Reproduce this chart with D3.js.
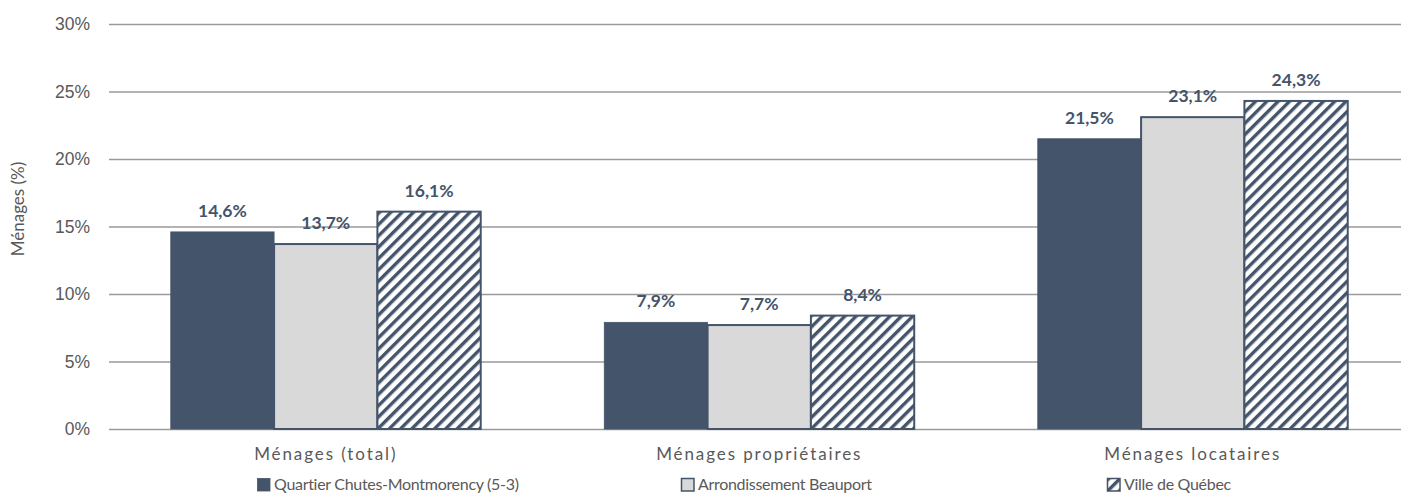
<!DOCTYPE html>
<html>
<head>
<meta charset="utf-8">
<script src="https://cdn.jsdelivr.net/npm/d3@7"></script>
<style>
  html, body { margin: 0; padding: 0; background: #fff; }
  svg { display: block; font-family: Lato, "Open Sans", sans-serif; }
</style>
</head>
<body>
<svg id="chart" width="1401" height="495"></svg>
<script>
// Categories, series and values
const categories = ["Ménages (total)", "Ménages propriétaires", "Ménages locataires"];
const seriesNames = ["Quartier Chutes-Montmorency (5-3)", "Arrondissement Beauport", "Ville de Québec"];
const quartier = [14.6, 7.9, 21.5];
const arrondissement = [13.7, 7.7, 23.1];
const ville = [16.1, 8.4, 24.3];
const yTicks = [0, 5, 10, 15, 20, 25, 30];
const yTitle = "Ménages (%)";

const seriesValues = [quartier, arrondissement, ville];
const dark = "#44546A";
const light = "#D9D9D9";

const svg = d3.select("#chart");
const W = 1401, H = 495;
const m = { left: 109, right: -8.5, top: 24, bottom: 66 };

// Hatched fill for the city series
const defs = svg.append("defs");
const pat = defs.append("pattern")
  .attr("id", "hatch")
  .attr("patternUnits", "userSpaceOnUse")
  .attr("width", 8).attr("height", 8)
  .attr("patternTransform", "rotate(45)");
pat.append("rect").attr("width", 8).attr("height", 8).attr("fill", "#fff");
pat.append("rect").attr("x", 0).attr("width", 3.4).attr("height", 8).attr("fill", dark);

const fills = [dark, light, "url(#hatch)"];

const x0 = d3.scaleBand().domain(categories)
  .range([m.left, W - m.right]).paddingInner(0.285).paddingOuter(0.1425);
const x1 = d3.scaleBand().domain(d3.range(seriesNames.length))
  .range([0, x0.bandwidth()]);
const y = d3.scaleLinear().domain([0, 30]).range([H - m.bottom, m.top]);

// Horizontal gridlines with tick labels
const yAxis = d3.axisLeft(y).tickValues(yTicks).tickFormat(d => d + "%")
  .tickSize(-(W - m.right - m.left)).tickPadding(19);
const gy = svg.append("g").attr("transform", `translate(${m.left},0)`).call(yAxis);
gy.select(".domain").remove();
gy.selectAll(".tick line").attr("stroke", "#9a9a9a").attr("stroke-width", 1.5);
gy.selectAll(".tick text").attr("fill", "#595959").style("font-size", "17.5px");

// Y axis title
svg.append("text")
  .attr("transform", `translate(24,209) rotate(-90)`)
  .attr("text-anchor", "middle")
  .attr("fill", "#595959").style("font-size", "17px")
  .text(yTitle);

// Bars
const groups = svg.append("g").selectAll("g")
  .data(categories)
  .join("g")
  .attr("transform", d => `translate(${x0(d)},0)`);

groups.selectAll("rect")
  .data((c, ci) => seriesValues.map((vals, si) => ({ si, v: vals[ci] })))
  .join("rect")
  .attr("x", d => x1(d.si))
  .attr("y", d => y(d.v))
  .attr("width", x1.bandwidth())
  .attr("height", d => y(0) - y(d.v))
  .attr("fill", d => fills[d.si])
  .attr("stroke", dark)
  .attr("stroke-width", d => d.si === 0 ? 0.8 : 2);

// Value labels
groups.selectAll("text.val")
  .data((c, ci) => seriesValues.map((vals, si) => ({ si, v: vals[ci] })))
  .join("text")
  .attr("class", "val")
  .attr("x", d => x1(d.si) + x1.bandwidth() / 2)
  .attr("y", d => y(d.v) - 15)
  .attr("text-anchor", "middle")
  .attr("fill", dark)
  .style("font-size", "17.5px").style("font-weight", "bold")
  .text(d => d.v.toFixed(1).replace(".", ",") + "%");

// Category labels
svg.append("g").selectAll("text")
  .data(categories)
  .join("text")
  .attr("x", d => x0(d) + x0.bandwidth() / 2)
  .attr("y", 460)
  .attr("text-anchor", "middle")
  .attr("fill", "#595959")
  .style("font-size", "17px").style("letter-spacing", "1.9px")
  .text(d => d);

// Legend
const legendX = [257, 681, 1107];
const lg = svg.append("g").selectAll("g")
  .data(seriesNames)
  .join("g")
  .attr("transform", (d, i) => `translate(${legendX[i]},478)`);
lg.append("rect")
  .attr("x", 0.5).attr("y", 0.5).attr("width", 12.5).attr("height", 12.5)
  .attr("fill", (d, i) => fills[i])
  .attr("stroke", dark).attr("stroke-width", (d, i) => i === 0 ? 0.8 : 1.5);
lg.append("text")
  .attr("x", 17).attr("y", 12)
  .attr("fill", "#595959")
  .style("font-size", "16px").style("letter-spacing", "-0.3px")
  .text(d => d);
</script>
</body>
</html>
